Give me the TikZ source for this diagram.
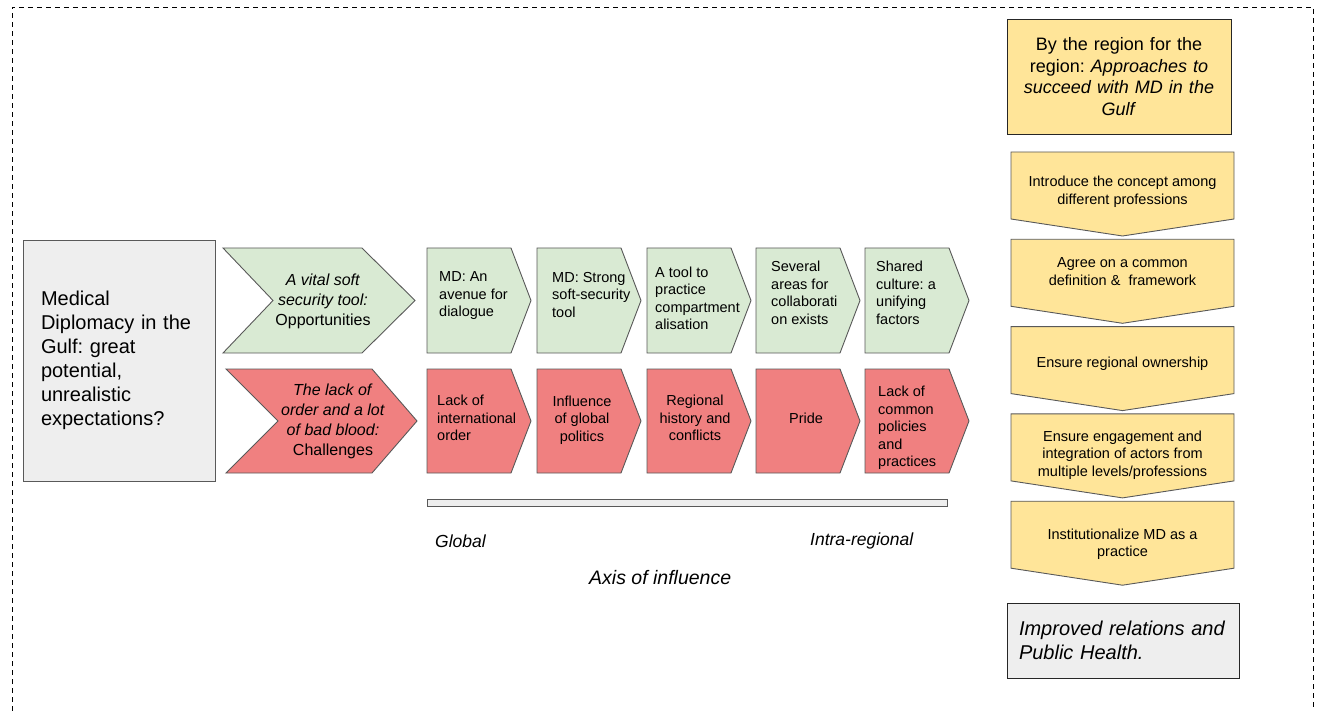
\documentclass[tikz,border=0pt]{standalone}
\usepackage{fontspec}
\setmainfont{Liberation Sans}
\frenchspacing
\begin{document}
\begin{tikzpicture}[x=1pt,y=-1pt,line join=miter]
\definecolor{boxgray}{HTML}{EEEEEE}
\definecolor{edgegray}{HTML}{595959}
\definecolor{okgreen}{HTML}{D9EAD3}
\definecolor{badred}{HTML}{F08080}
\definecolor{stepyellow}{HTML}{FFE599}
\tikzset{
  frame/.style={draw=black,line width=0.9pt,dash pattern=on 5pt off 4pt},
  shapeedge/.style={draw=edgegray,line width=0.9pt},
  greenshape/.style={shapeedge,fill=okgreen},
  redshape/.style={shapeedge,fill=badred},
  yellowshape/.style={shapeedge,fill=stepyellow},
  smalltext/.style={font=\fontsize{14.5}{17.5}\selectfont,inner sep=0pt},
  midtext/.style={font=\fontsize{16}{20}\selectfont,inner sep=0pt,align=center},
  axistext/.style={font=\fontsize{17.5}{21}\selectfont\itshape,inner sep=0pt,anchor=west},
}
\useasboundingbox (0,0) rectangle (1320,711);

% dashed outer frame, open at the bottom
\draw[frame] (12,711) -- (12,7) -- (1313,7) -- (1313,711);

% title box on the left
\node[draw=edgegray,line width=0.9pt,fill=boxgray,minimum width=192pt,minimum height=241pt,
      text width=156pt,inner xsep=18pt,align=left,
      font=\fontsize{20}{24}\selectfont] (title) at (119,360.5)
  {Medical\\Diplomacy in the\\Gulf: great\\potential,\\unrealistic\\expectations?};

% large chevrons
\path[greenshape] (223,248) -- (362,248) -- (415,300.5) -- (362,353) -- (223,353) -- (273,300.5) -- cycle;
\node[midtext] (opp) at (323,301)
  {\textit{A vital soft}\\\textit{security tool:}\\Opportunities};
\path[redshape] (226,369) -- (372,369) -- (417,421) -- (372,473) -- (226,473) -- (278,421) -- cycle;
\node[midtext] (chal) at (333,421.5)
  {\textit{The lack of}\\\textit{order and a lot}\\\textit{of bad blood:}\\Challenges};

% small chevrons, two rows
\foreach \L in {427,537,647,756,865}{
  \path[greenshape] (\L,248) -- (\L+84,248) -- (\L+104,300.5) -- (\L+84,353) -- (\L,353) -- cycle;
  \path[redshape] (\L,369) -- (\L+84,369) -- (\L+104,421) -- (\L+84,473) -- (\L,473) -- cycle;
}
\node[smalltext,align=left,anchor=west] (g1) at (439,296) {MD: An\\avenue for\\dialogue};
\node[smalltext,align=left,anchor=west] (g2) at (552,295) {MD: Strong\\soft-security\\tool};
\node[smalltext,align=left,anchor=west] (g3) at (655,298.5) {A tool to\\practice\\compartment\\alisation};
\node[smalltext,align=left,anchor=west] (g4) at (771,293) {Several\\areas for\\collaborati\\on exists};
\node[smalltext,align=left,anchor=west] (g5) at (876,293) {Shared\\culture: a\\unifying\\factors};

\node[smalltext,align=left,anchor=west] (r1) at (437,418) {Lack of\\international\\order};
\node[smalltext,align=center] (r2) at (582,420) {Influence\\of global\\politics};
\node[smalltext,align=center] (r3) at (695,418) {Regional\\history and\\conflicts};
\node[smalltext,align=center] (r4) at (806,418) {Pride};
\node[smalltext,align=left,anchor=west] (r5) at (878,428) {Lack of\\common\\policies\\and\\practices};

% axis of influence
\path[shapeedge,fill=boxgray] (427,499) rectangle (947,506);
\node[axistext] (glob) at (435,541) {Global};
\node[axistext] (intra) at (810,541) {Intra-regional};
\node[axistext,font=\fontsize{19.5}{23}\selectfont\itshape] (axis) at (589,578) {Axis of influence};

% right column: heading, steps, outcome
\node[draw=black!85,line width=0.9pt,fill=stepyellow,minimum width=224pt,minimum height=115pt,
      text width=210pt,inner xsep=7pt,align=center,
      font=\fontsize{18}{21.5}\selectfont] (head) at (1119,76.5)
  {By the region for the\\region: \textit{Approaches to}\\\textit{succeed with MD in the}\\\textit{Gulf}};

\foreach \t in {152,239.3,326.6,413.9,501.2}{
  \path[yellowshape] (1011,\t) -- (1234,\t) -- (1234,\t+67) -- (1122.5,\t+84) -- (1011,\t+67) -- cycle;
}
\node[smalltext,align=center] (s1) at (1122.5,192) {Introduce the concept among\\different professions};
\node[smalltext,align=center] (s2) at (1122.5,271.7) {Agree on a common\\definition \&~ framework};
\node[smalltext,align=center] (s3) at (1122.5,363.7) {Ensure regional ownership};
\node[smalltext,align=center] (s4) at (1122.5,455) {Ensure engagement and\\integration of actors from\\multiple levels/professions};
\node[smalltext,align=center] (s5) at (1122.5,544.4) {Institutionalize MD as a\\practice};

\node[draw=black!85,line width=0.9pt,fill=boxgray,minimum width=232pt,minimum height=75pt,
      text width=208pt,inner xsep=12pt,align=left,
      font=\fontsize{20}{24}\selectfont\itshape] (result) at (1123,640.5)
  {Improved relations and\\Public Health.};
\end{tikzpicture}
\end{document}
